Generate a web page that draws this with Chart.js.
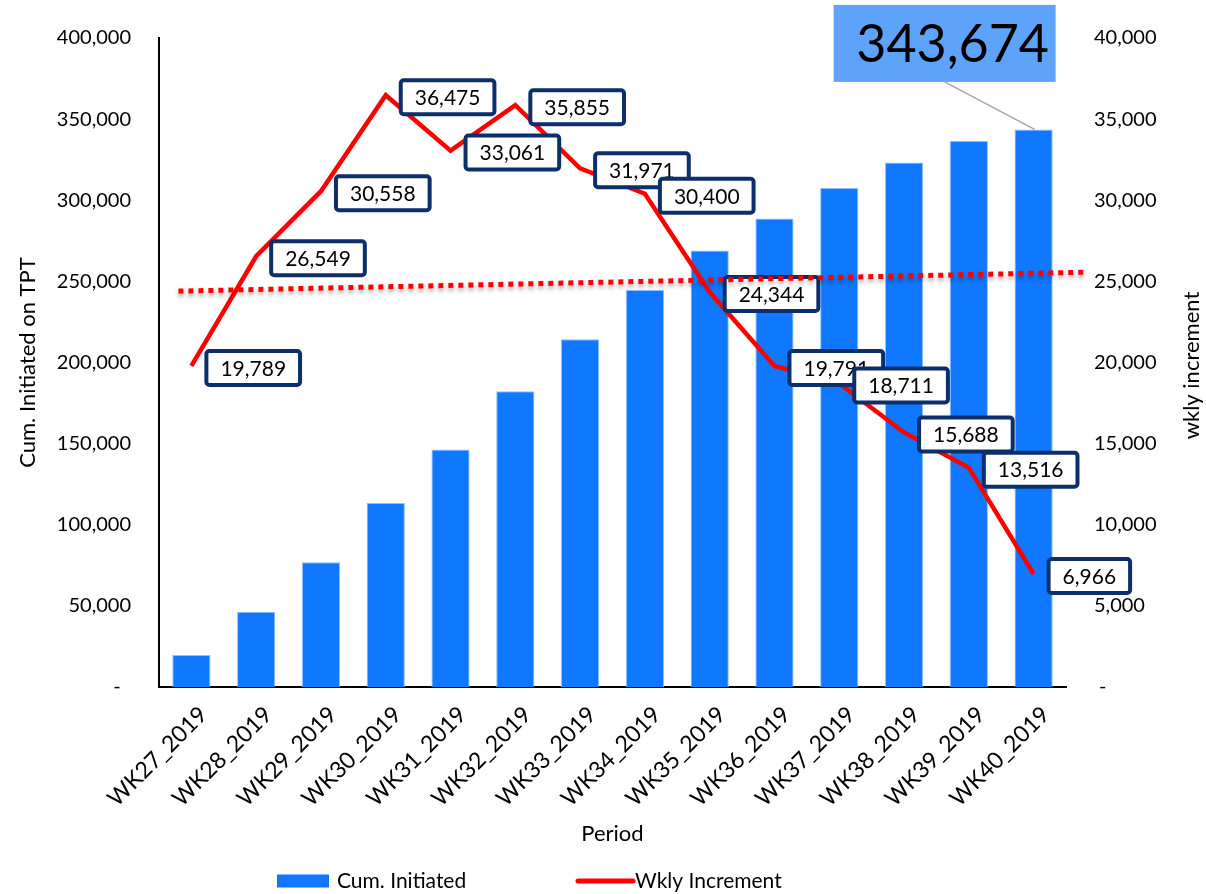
<!DOCTYPE html>
<html>
<head>
<meta charset="utf-8">
<script src="https://cdn.jsdelivr.net/npm/chart.js@4.4.1/dist/chart.umd.min.js"></script>
<style>
  html, body { margin: 0; padding: 0; background: #fff; }
  canvas { display: block; }
</style>
</head>
<body>
<canvas id="periodChart" width="1206" height="894"></canvas>
<script>
const periods = ["WK27_2019", "WK28_2019", "WK29_2019", "WK30_2019", "WK31_2019", "WK32_2019", "WK33_2019",
                 "WK34_2019", "WK35_2019", "WK36_2019", "WK37_2019", "WK38_2019", "WK39_2019", "WK40_2019"];
const cumInitiated = [19789, 46338, 76896, 113371, 146432, 182287, 214258, 244658, 269002, 288793, 307504, 323192, 336708, 343674];
const wklyIncrement = [19789, 26549, 30558, 36475, 33061, 35855, 31971, 30400, 24344, 19791, 18711, 15688, 13516, 6966];
// dotted trend line, ends given as (category index, wkly value)
const trendIndex = [-0.2, 13.83];
const trendValue = [24400, 25570];

const FONT = 'Lato, "Open Sans", sans-serif';
const NAVY = "#0b2f6b";

function fmt(v) {
    return v.toLocaleString("en-US");
}

// white boxes with navy border next to each line point
const boxLabels = {
    id: "boxLabels",
    afterDatasetsDraw(chart) {
        const ctx = chart.ctx;
        const meta = chart.getDatasetMeta(0);
        ctx.save();
        ctx.font = "21px " + FONT;
        ctx.textAlign = "center";
        ctx.textBaseline = "middle";
        meta.data.forEach((pt, i) => {
            const text = fmt(wklyIncrement[i]);
            const w = ctx.measureText(text).width + 28;
            const h = 34;
            const x = pt.x + 15;
            const y = pt.y - h / 2 + 2;
            ctx.beginPath();
            ctx.roundRect(x, y, w, h, 3);
            ctx.fillStyle = "#fff";
            ctx.fill();
            ctx.lineWidth = 4;
            ctx.strokeStyle = NAVY;
            ctx.stroke();
            ctx.fillStyle = "#000";
            ctx.fillText(text, x + w / 2, y + h / 2 + 1);
        });
        ctx.restore();
    }
};

const overlay = {
    id: "overlay",
    afterDraw(chart) {
        const ctx = chart.ctx;
        const xs = chart.scales.x;
        const y2 = chart.scales.y2;

        // trend line
        ctx.save();
        ctx.strokeStyle = "#ff0000";
        ctx.lineWidth = 5;
        ctx.setLineDash([5, 5]);
        ctx.shadowColor = "rgba(0,0,0,0.35)";
        ctx.shadowBlur = 4;
        ctx.shadowOffsetY = 3;
        ctx.beginPath();
        ctx.moveTo(xs.getPixelForValue(trendIndex[0]), y2.getPixelForValue(trendValue[0]));
        ctx.lineTo(xs.getPixelForValue(trendIndex[1]), y2.getPixelForValue(trendValue[1]));
        ctx.stroke();
        ctx.restore();

        // callout for the last cumulative bar
        const last = cumInitiated.length - 1;
        const bar = chart.getDatasetMeta(1).data[last];
        const bw = 222, bh = 77;
        const cx = bar.x - 89, cy = bar.y - 86;
        ctx.save();
        ctx.strokeStyle = "#a6a6a6";
        ctx.lineWidth = 1.5;
        ctx.beginPath();
        ctx.moveTo(cx, cy + bh / 2);
        ctx.lineTo(bar.x + 1, bar.y);
        ctx.stroke();
        ctx.fillStyle = "#5ea3fa";
        ctx.fillRect(cx - bw / 2, cy - bh / 2, bw, bh);
        ctx.fillStyle = "#000";
        ctx.font = "52px " + FONT;
        ctx.textAlign = "center";
        ctx.textBaseline = "middle";
        ctx.fillText(fmt(cumInitiated[last]), cx + 8, cy + 2);
        ctx.restore();

        // right axis title, reading bottom to top
        ctx.save();
        ctx.translate(1192, (y2.top + y2.bottom) / 2 + 3);
        ctx.rotate(-Math.PI / 2);
        ctx.font = "22px " + FONT;
        ctx.fillStyle = "#000";
        ctx.textAlign = "center";
        ctx.textBaseline = "middle";
        ctx.fillText("wkly increment", 0, 0);
        ctx.restore();

        // legend
        ctx.save();
        ctx.font = "21px " + FONT;
        ctx.textBaseline = "middle";
        ctx.textAlign = "left";
        const ly = 881;
        let lx = 277;
        ctx.fillStyle = "#0f78ff";
        ctx.fillRect(lx, ly - 6.5, 52, 13);
        ctx.fillStyle = "#000";
        ctx.fillText("Cum. Initiated", lx + 60, ly);
        lx = 578;
        ctx.strokeStyle = "#ff0000";
        ctx.lineWidth = 5;
        ctx.lineCap = "round";
        ctx.beginPath();
        ctx.moveTo(lx, ly);
        ctx.lineTo(lx + 55, ly);
        ctx.stroke();
        ctx.fillText("Wkly Increment", lx + 57, ly);
        ctx.restore();
    }
};

const ctx = document.getElementById("periodChart").getContext("2d");

new Chart(ctx, {
    type: "bar",
    data: {
        labels: periods,
        datasets: [
            {
                type: "line",
                label: "Wkly Increment",
                data: wklyIncrement,
                yAxisID: "y2",
                borderColor: "#ff0000",
                borderWidth: 4.5,
                pointRadius: 0,
                tension: 0,
                order: 0
            },
            {
                type: "bar",
                label: "Cum. Initiated",
                data: cumInitiated,
                yAxisID: "y",
                backgroundColor: "#0f78ff",
                borderColor: "#8ec0ff",
                borderWidth: 1,
                categoryPercentage: 1,
                barPercentage: 0.59,
                order: 1
            }
        ]
    },
    options: {
        responsive: false,
        animation: false,
        layout: { padding: { top: 38, left: 0, right: 0, bottom: 40 } },
        plugins: {
            legend: { display: false },
            tooltip: { enabled: false }
        },
        scales: {
            x: {
                grid: { display: false },
                border: { display: true, color: "#000", width: 2 },
                ticks: {
                    color: "#000",
                    font: { family: FONT, size: 23 },
                    minRotation: 45,
                    maxRotation: 45,
                    autoSkip: false,
                    labelOffset: 12,
                    padding: 6
                },
                title: {
                    display: true,
                    text: "Period",
                    color: "#000",
                    font: { family: FONT, size: 22 },
                    padding: { top: 0, bottom: 7 }
                },
                afterFit(scale) { scale.height = 167; }
            },
            y: {
                position: "left",
                min: 0,
                max: 400000,
                grid: { display: false },
                border: { display: true, color: "#000", width: 2 },
                ticks: {
                    stepSize: 50000,
                    color: "#000",
                    font: { family: FONT, size: 20 },
                    padding: 20,
                    callback: v => v === 0 ? "-  " : fmt(v)
                },
                title: {
                    display: true,
                    text: "Cum. Initiated on TPT",
                    color: "#000",
                    font: { family: FONT, size: 22 },
                    padding: { top: 15, bottom: 0 }
                },
                afterFit(scale) { scale.width = 159; }
            },
            y2: {
                position: "right",
                min: 0,
                max: 40000,
                grid: { display: false },
                border: { display: false },
                ticks: {
                    stepSize: 5000,
                    color: "#000",
                    font: { family: FONT, size: 20 },
                    padding: 20,
                    callback: v => v === 0 ? " -" : fmt(v)
                },
                afterFit(scale) { scale.width = 140; }
            }
        }
    },
    plugins: [boxLabels, overlay]
});
</script>
</body>
</html>
